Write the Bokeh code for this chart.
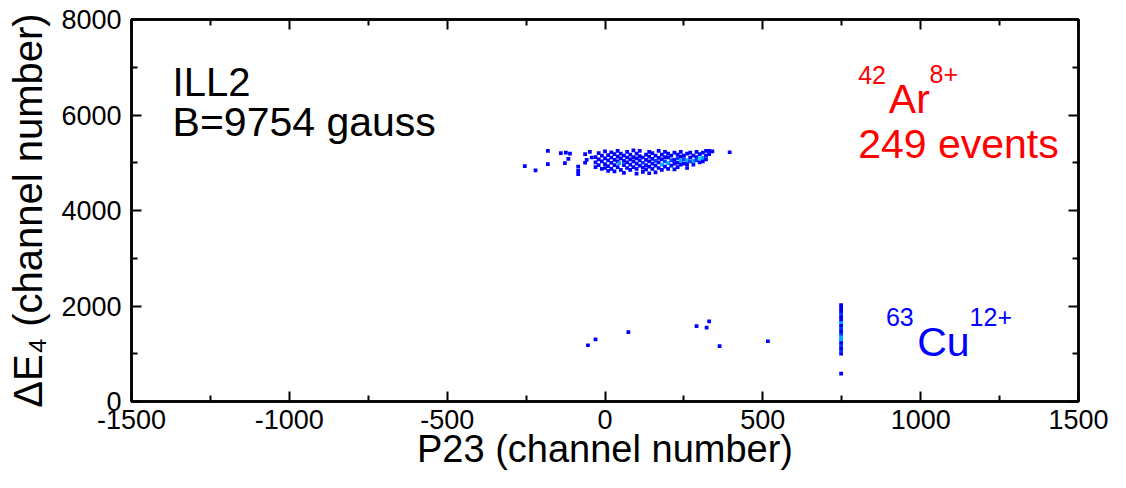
from bokeh.plotting import figure
from bokeh.models import Range1d, LinearAxis, FixedTicker, Label, ColumnDataSource
from bokeh.embed import file_html
from bokeh.resources import INLINE

# ---------------- data ----------------
x_ticks = [-1500, -1000, -500, 0, 500, 1000, 1500]
x_minor = [-1250, -750, -250, 250, 750, 1250]
y_ticks = [0, 2000, 4000, 6000, 8000]
y_minor = [1000, 3000, 5000, 7000]
x_tick_labels = ["-1500", "-1000", "-500", "0", "500", "1000", "1500"]
y_tick_labels = ["0", "2000", "4000", "6000", "8000"]

# 42Ar8+ cluster: 2D-histogram cells (P23, dE4, counts)
ar_x = [-254, -220, -181, -181, -140, -124, -111, -127, -116, -85, -85, -85, -63, -58, -63, -48, -42,
        -30, -30, -30, -20, -20, -20, -10, -10, -10,
        0, 0, 0, 0, 10, 10, 10, 10, 20, 20, 20, 20, 30, 30, 30, 30, 40, 40, 40, 40,
        45, 50, 50, 50, 60, 60, 60, 60, 70, 70, 70, 70, 80, 80, 80, 80, 90, 90, 90, 90,
        100, 100, 100, 100, 100, 110, 110, 110, 110, 120, 120, 120, 120, 130, 130, 130, 130,
        140, 140, 140, 140, 140, 150, 150, 150, 150, 160, 160, 160, 160, 170, 170, 170, 170,
        180, 180, 180, 180, 190, 190, 190, 190, 200, 200, 200, 200, 210, 210, 210,
        220, 220, 220, 220, 230, 230, 230, 230, 240, 240, 240, 240, 250, 250, 250,
        260, 260, 260, 260, 270, 270, 270, 280, 280, 280, 290, 290, 290,
        300, 300, 300, 310, 310, 310, 320, 320, 320, 330, 330, 340, 395]
ar_y = [4930, 4840, 5250, 4970, 5200, 5210, 5190, 4990, 5080, 4920, 4830, 4760, 5180, 5060, 5000, 5230, 5110,
        5010, 5120, 4910, 5070, 4950, 5200, 5030, 4870, 5150,
        4970, 5090, 5240, 4890, 5050, 4930, 5160, 4830, 5000, 5110, 4870, 5220, 4950, 5060, 5180, 4820,
        5030, 4910, 5130, 5250,
        4990, 5090, 4850, 5190, 5040, 4950, 5150, 4790, 5010, 5110, 4890, 5230, 4960, 5070, 5170, 4850,
        5030, 4910, 5120, 5260,
        4980, 5090, 4870, 5190, 4770, 5050, 4940, 5140, 5250, 5000, 5110, 4900, 4810, 4950, 5060, 5170, 4860,
        5030, 4920, 5130, 5230, 4780, 4980, 5080, 4870, 5200, 5040, 4940, 5150, 4800, 5010, 5100, 4890, 5250,
        4960, 5070, 5170, 4850, 5030, 4920, 5120, 5230, 4990, 5110, 4870, 5190, 5050, 4940, 5150,
        5060, 4980, 5210, 4860, 5090, 5000, 5170, 4910, 5040, 4960, 5130, 5230, 5070, 5150, 4980,
        5050, 4970, 5190, 4890, 5110, 5030, 5210, 5040, 5150, 4960, 5120, 5050, 5230,
        5090, 5180, 5010, 5100, 5210, 5030, 5150, 5250, 5070, 5180, 5250, 5240, 5220]
ar_n = [1] * 17 + [1, 1, 1, 1, 1, 1, 1, 1, 1,
        1, 1, 1, 1, 1, 1, 1, 1, 1, 1, 1, 1, 1, 1, 1, 1, 1, 1, 1, 1,
        3, 1, 1, 1, 1, 1, 1, 1, 1, 1, 1, 1, 1, 1, 1, 1, 1, 1, 1, 1,
        1, 1, 1, 1, 1, 1, 1, 1, 1, 2, 1, 1, 1, 1, 1, 1, 1,
        1, 1, 1, 1, 1, 1, 1, 1, 1, 2, 1, 1, 1, 1, 1, 1, 1,
        3, 1, 1, 1, 2, 1, 1, 1, 3, 1, 1, 1, 2, 1, 1,
        1, 1, 1, 1, 2, 1, 1, 1, 3, 1, 1, 1, 2, 1, 1,
        3, 1, 1, 1, 1, 2, 1, 3, 1, 1, 1, 2, 1,
        4, 1, 1, 3, 1, 1, 1, 1, 1, 1, 1, 1, 1]

# 63Cu12+ group and stray events
cu_x = [-54, -30, 74, 290, 322, 330, 363, 516, 748,
        748, 748, 748, 748, 748, 748, 748, 748, 748, 748, 748, 748, 748, 748, 748, 748, 748, 748]
cu_y = [1178, 1303, 1455, 1580, 1546, 1680, 1158, 1262, 586,
        1000, 1060, 1120, 1180, 1240, 1300, 1360, 1420, 1480, 1540, 1600, 1660, 1720, 1780, 1840, 1900, 1960, 2020]
cu_n = [1, 1, 1, 1, 1, 1, 1, 1, 1,
        1, 2, 1, 2, 1, 3, 3, 2, 1, 2, 1, 3, 1, 1, 2, 1, 1, 1]

assert len(ar_x) == len(ar_y) == len(ar_n), (len(ar_x), len(ar_y), len(ar_n))
assert len(cu_x) == len(cu_y) == len(cu_n)

palette = ["#0000ff", "#0038ff", "#00a8ff", "#00d8ff"]

all_x = ar_x + cu_x
all_y = ar_y + cu_y
all_n = ar_n + cu_n
src = ColumnDataSource(dict(x=all_x, y=all_y, c=[palette[min(n, 4) - 1] for n in all_n]))

# ---------------- figure ----------------
FONT = "Liberation Sans"
p = figure(width=1110, height=472, x_range=Range1d(-1500, 1500), y_range=Range1d(0, 8000),
           output_backend="svg", toolbar_location=None,
           min_border_left=131, min_border_right=32, min_border_top=19, min_border_bottom=69)
p.xgrid.visible = False
p.ygrid.visible = False
p.background_fill_color = "white"
p.border_fill_color = "white"
p.outline_line_color = "black"
p.outline_line_width = 2.5

p.rect(x="x", y="y", width=12, height=78, source=src, fill_color="c", line_color=None)

p.add_layout(LinearAxis(), "above")
p.add_layout(LinearAxis(), "right")

for ax in p.xaxis:
    ax.ticker = FixedTicker(ticks=x_ticks, minor_ticks=x_minor)
for ax in p.yaxis:
    ax.ticker = FixedTicker(ticks=y_ticks, minor_ticks=y_minor)

for ax in p.xaxis + p.yaxis:
    ax.axis_line_width = 2.5
    ax.axis_line_color = "black"
    ax.major_tick_in = 10
    ax.major_tick_out = 0
    ax.minor_tick_in = 6
    ax.minor_tick_out = 0
    ax.major_tick_line_width = 2
    ax.minor_tick_line_width = 2
    ax.major_tick_line_color = "black"
    ax.minor_tick_line_color = "black"
    ax.major_label_text_font = FONT
    ax.major_label_text_font_size = "27px"
    ax.major_label_text_color = "black"
    ax.axis_label = None

p.below[0].major_label_overrides = {t: s for t, s in zip(x_ticks, x_tick_labels)}
p.left[0].major_label_overrides = {t: s for t, s in zip(y_ticks, y_tick_labels)}

p.above[0].major_label_overrides = {t: "" for t in x_ticks}
p.right[0].major_label_overrides = {t: "" for t in y_ticks}
for ax in (p.above[0], p.right[0]):
    ax.major_label_text_font_size = "1px"
    ax.major_label_standoff = 0

bx = p.below[0]
bx.major_label_standoff = 8
bx.axis_label = "P23 (channel number)"
bx.axis_label_text_font = FONT
bx.axis_label_text_font_size = "38px"
bx.axis_label_text_font_style = "normal"
bx.axis_label_text_color = "black"
bx.axis_label_standoff = -4

ly = p.left[0]
ly.major_label_standoff = 10
ly.axis_label = "\u0394E\u2084 (channel number)"
ly.axis_label_text_font = FONT
ly.axis_label_text_font_size = "40px"
ly.axis_label_text_font_style = "normal"
ly.axis_label_text_color = "black"
ly.axis_label_standoff = 8


def lab(x, y, text, size, color="black"):
    p.add_layout(Label(x=x, y=y, text=text, text_font=FONT, text_font_size=size,
                       text_color=color, text_align="left", text_baseline="alphabetic"))


# annotations
lab(-1370, 6685, "ILL2", "40px")
lab(-1370, 5853, "B=9754 gauss", "41px")

lab(802, 6836, "42", "25px", color="#ff0000")
lab(899, 6338, "Ar", "41px", color="#ff0000")
lab(1028, 6857, "8+", "25px", color="#ff0000")
lab(802, 5403, "249 events", "41px", color="#ff0000")

lab(890, 1766, "63", "25px", color="#0000ff")
lab(989, 1247, "Cu", "41px", color="#0000ff")
lab(1155, 1766, "12+", "25px", color="#0000ff")

open("out.html", "w").write(file_html(p, INLINE))
